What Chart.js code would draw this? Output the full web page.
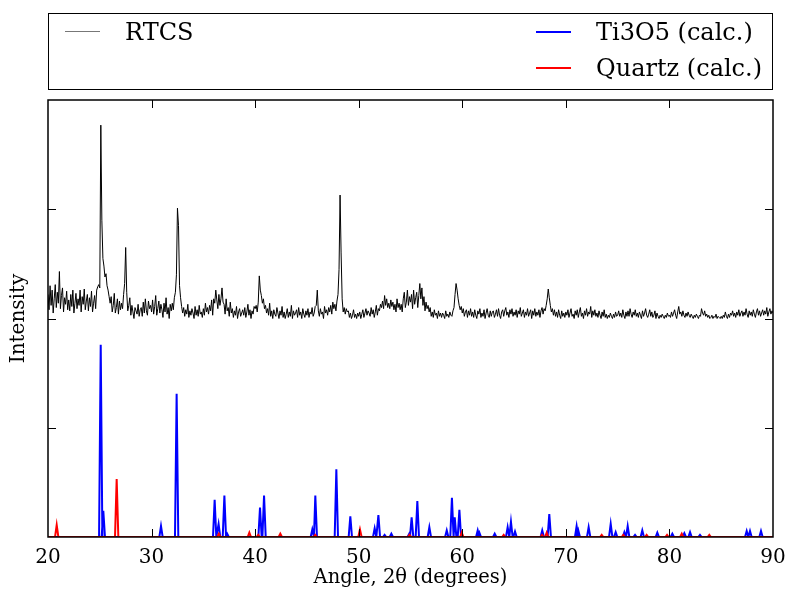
<!DOCTYPE html>
<html>
<head>
<meta charset="utf-8">
<script src="https://cdn.jsdelivr.net/npm/chart.js@4"></script>
<style>
  html, body { margin: 0; padding: 0; background: #fff; }
  #wrap { position: relative; width: 785px; height: 595px; }
  #legendBox {
    position: absolute; left: 48px; top: 13px; width: 723px; height: 75px;
    border: 1.5px solid #000; font-family: "DejaVu Serif", serif; font-size: 24px; color: #000;
  }
  .lg-item { position: absolute; height: 28px; line-height: 28px; white-space: nowrap; }
  .lg-swatch { position: absolute; top: 13px; width: 35px; }
  .lg-text { position: absolute; left: 60px; top: 0; }
</style>
</head>
<body>
<div id="wrap">
  <canvas id="xrd" width="785" height="595"></canvas>
  <div id="legendBox"></div>
</div>
<script>
// x axis
const angleMin = 20;
const angleMax = 90;
const angleStep = 10;
// y axis (arbitrary units, pattern offset by 200)
const intensityMax = 400;
const intensityStep = 100;

// measured pattern, sampled every 0.1 degree from 20.0 to 90.0
const rtcsStart = 20;
const rtcsStep = 0.1;
const rtcsCounts = [
  222,208,230,212,226,205,218,231,210,224, // 20
  214,243,209,221,228,206,219,213,225,208, // 21
  217,207,222,211,226,205,214,223,209,218, // 22
  212,226,206,220,213,227,208,216,222,207, // 23
  219,211,225,206,214,221,209,226,229,231, // 24
  228,377,290,255,248,238,241,230,226,220, // 25
  214,220,206,212,223,205,210,218,204,216, // 26
  208,214,209,222,232,265,224,207,212,219, // 27
  203,212,206,200,210,207,204,213,202,208, // 28
  210,202,215,205,218,207,203,216,209,212, // 29
  206,217,204,211,221,203,209,216,205,213, // 30
  208,201,214,206,219,204,210,200,213,207, // 31
  214,208,219,224,240,301,285,230,219,211, // 32
  205,210,202,208,204,213,201,207,203,209, // 33
  205,200,211,203,208,202,212,204,206,201, // 34
  209,203,214,206,210,204,212,207,217,203, // 35
  218,214,226,217,209,222,212,218,228,215, // 36
  213,204,218,207,210,202,215,205,209,201, // 37
  207,203,211,200,206,209,202,205,208,203, // 38
  210,201,206,213,203,208,200,207,204,211, // 39
  209,212,206,215,239,226,221,214,218,209, // 40
  212,205,209,203,214,202,207,200,208,204, // 41
  202,210,205,200,207,203,211,201,206,200, // 42
  204,209,201,206,202,212,200,207,203,205, // 43
  208,201,210,203,206,200,209,204,201,207, // 44
  203,209,201,206,204,210,202,205,211,212, // 45
  226,207,202,209,204,206,200,211,205,208, // 46
  203,210,206,212,204,215,209,213,207,216, // 47
  222,245,313,260,218,206,210,204,209,206, // 48
  207,201,205,200,203,208,201,204,200,205, // 49
  202,206,200,204,208,201,205,209,203,207, // 50
  205,202,210,204,208,201,206,212,203,209, // 51
  207,213,210,216,209,221,212,218,210,214, // 52
  209,217,211,215,208,213,206,218,210,214, // 53
  208,213,206,218,224,210,215,226,212,220, // 54
  215,222,209,226,213,219,224,210,221,232, // 55
  218,228,212,220,207,215,209,212,206,210, // 56
  202,206,201,208,203,205,200,207,202,205, // 57
  201,205,203,200,207,202,204,201,206,203, // 58
  202,207,210,222,232,226,218,212,208,211, // 59
  205,209,202,206,208,201,207,203,209,202, // 60
  206,201,208,203,200,207,204,209,201,205, // 61
  202,208,200,205,209,203,201,207,202,206, // 62
  207,201,204,208,202,209,203,200,206,208, // 63
  202,207,210,203,206,201,208,204,209,202, // 64
  206,203,208,201,207,204,210,202,205,208, // 65
  201,206,203,209,202,205,208,200,207,203, // 66
  209,202,206,203,208,201,207,210,204,209, // 67
  207,212,218,227,219,212,206,209,203,208, // 68
  202,206,201,208,203,200,207,202,205,201, // 69
  206,203,208,201,205,209,202,204,200,207, // 70
  203,208,201,206,210,202,205,200,207,203, // 71
  209,202,206,204,211,201,207,203,208,202, // 72
  205,201,207,203,200,206,202,208,201,204, // 73
  200,203,201,205,202,200,204,201,206,202, // 74
  203,207,202,205,201,208,203,200,206,202, // 75
  207,202,209,204,201,206,203,208,202,205, // 76
  201,206,203,200,207,202,205,209,203,201, // 77
  204,208,202,206,201,203,207,200,205,202, // 78
  200,203,201,204,202,200,203,201,205,202, // 79
  203,201,206,202,205,208,203,200,206,211, // 80
  204,206,202,207,203,201,205,202,206,203, // 81
  201,204,202,200,203,201,204,202,200,203, // 82
  202,209,205,203,207,202,204,201,203,200, // 83
  201,203,200,202,201,204,200,202,201,200, // 84
  202,200,203,201,206,202,200,204,201,205, // 85
  203,207,202,205,201,206,203,208,202,205, // 86
  207,202,206,203,209,204,201,207,203,206, // 87
  202,208,204,201,206,209,203,207,202,205, // 88
  208,203,207,204,210,202,206,209,204,207, // 89
  205                                      // 90
];

// calculated reflections: positions (degrees) and heights
const ti3o5Angles = [25.09, 25.34, 30.91, 32.42, 36.09, 36.47, 37.03, 37.3, 40.47, 40.86,
  45.52, 45.81, 47.84, 49.19, 51.54, 51.9, 52.5, 53.15, 54.88, 55.11, 55.66, 56.82,
  58.5, 59.0, 59.27, 59.72, 61.49, 61.65, 63.13, 64.38, 64.7, 65.09, 67.72, 68.4,
  71.04, 71.2, 72.2, 74.33, 74.81, 75.65, 75.97, 76.68, 77.38, 78.83, 80.28, 81.44,
  81.99, 82.95, 87.46, 87.78, 88.84];
const ti3o5Heights = [176, 24, 10, 131, 34, 12, 38, 3, 27, 38,
  7, 38, 62, 19, 8, 20, 2, 3, 3, 18, 33, 9,
  6, 36, 18, 25, 6, 4, 3, 9, 14, 5, 6, 21,
  10, 6, 9, 12, 4.5, 4.5, 10, 2, 6, 4, 3, 3.5,
  4.5, 2, 5.5, 5.5, 5.5];

const quartzAngles = [20.84, 26.63, 36.5, 39.44, 40.3, 42.43, 45.8, 50.12, 54.9, 59.95,
  64.0, 67.7, 68.15, 73.46, 75.55, 77.8, 79.77, 81.19, 83.85];
const quartzHeights = [11, 53, 3, 4, 2, 3, 2, 7, 2, 4,
  2, 2, 4, 2, 2, 2, 2, 3, 2];

const peakHalfWidth = 0.16;

function rtcsPoints() {
  return rtcsCounts.map((c, i) => ({ x: +(rtcsStart + i * rtcsStep).toFixed(2), y: c }));
}

// stick pattern -> narrow peaks on a zero baseline
function stickPoints(angles, heights) {
  const pts = [{ x: angleMin, y: 0 }];
  angles.forEach((a, i) => {
    pts.push({ x: a - peakHalfWidth, y: 0 });
    pts.push({ x: a, y: heights[i] });
    pts.push({ x: a + peakHalfWidth, y: 0 });
  });
  pts.push({ x: angleMax, y: 0 });
  return pts;
}

const frameTicks = {
  id: 'frameTicks',
  afterDatasetsDraw(chart) {
    const { ctx, chartArea: a, scales: { x, y } } = chart;
    ctx.save();
    ctx.strokeStyle = '#000';
    ctx.lineWidth = 1;
    ctx.beginPath();
    for (let v = angleMin + angleStep; v < angleMax; v += angleStep) {
      const px = Math.round(x.getPixelForValue(v)) + 0.5;
      ctx.moveTo(px, a.bottom); ctx.lineTo(px, a.bottom - 8);
      ctx.moveTo(px, a.top); ctx.lineTo(px, a.top + 8);
    }
    for (let v = intensityStep; v < intensityMax; v += intensityStep) {
      const py = Math.round(y.getPixelForValue(v)) + 0.5;
      ctx.moveTo(a.left, py); ctx.lineTo(a.left + 8, py);
      ctx.moveTo(a.right, py); ctx.lineTo(a.right - 8, py);
    }
    ctx.stroke();
    ctx.lineWidth = 1.5;
    ctx.strokeRect(a.left, a.top, a.right - a.left, a.bottom - a.top);
    ctx.restore();
  }
};

const serif = '"DejaVu Serif", serif';

const chart = new Chart(document.getElementById('xrd').getContext('2d'), {
  type: 'line',
  data: {
    datasets: [
      { label: 'RTCS', data: rtcsPoints(), borderColor: '#000000', borderWidth: 1, order: 2 },
      { label: 'Ti3O5 (calc.)', data: stickPoints(ti3o5Angles, ti3o5Heights), borderColor: '#0000ff', borderWidth: 2, order: 1 },
      { label: 'Quartz (calc.)', data: stickPoints(quartzAngles, quartzHeights), borderColor: '#ff0000', borderWidth: 2, order: 0 }
    ]
  },
  options: {
    responsive: false,
    animation: false,
    parsing: false,
    elements: { point: { radius: 0 }, line: { tension: 0 } },
    layout: { padding: { top: 100, right: 12, left: 0, bottom: 0 } },
    plugins: { legend: { display: false }, tooltip: { enabled: false } },
    scales: {
      x: {
        type: 'linear', min: angleMin, max: angleMax,
        grid: { display: false, drawTicks: false },
        border: { display: false },
        ticks: { stepSize: angleStep, padding: 9, color: '#000', font: { family: serif, size: 20 } },
        title: { display: true, text: 'Angle, 2θ (degrees)', color: '#000', font: { family: serif, size: 19.5 }, padding: { top: 2, bottom: 5 } },
        afterFit: s => { s.height = 58; s.paddingLeft = 0; s.paddingRight = 0; }
      },
      y: {
        min: 0, max: intensityMax,
        grid: { display: false, drawTicks: false },
        border: { display: false },
        ticks: { display: false, stepSize: intensityStep },
        title: { display: true, text: 'Intensity', color: '#000', font: { family: serif, size: 20 }, padding: { top: 7, bottom: 0 } },
        afterFit: s => { s.width = 48; }
      }
    }
  },
  plugins: [frameTicks]
});

// legend laid out in two columns like the original
const legendCols = [{ left: 16, items: [0] }, { left: 487, items: [1, 2] }];
const legendBox = document.getElementById('legendBox');
legendCols.forEach(col => {
  col.items.forEach((idx, row) => {
    const ds = chart.data.datasets[idx];
    const item = document.createElement('div');
    item.className = 'lg-item';
    item.style.left = col.left + 'px';
    item.style.top = (4 + row * 36) + 'px';
    item.innerHTML = `<div class="lg-swatch" style="border-top:${ds.borderWidth}px solid ${idx === 0 ? '#777' : ds.borderColor}"></div><span class="lg-text">${ds.label}</span>`;
    legendBox.appendChild(item);
  });
});
</script>
</body>
</html>
